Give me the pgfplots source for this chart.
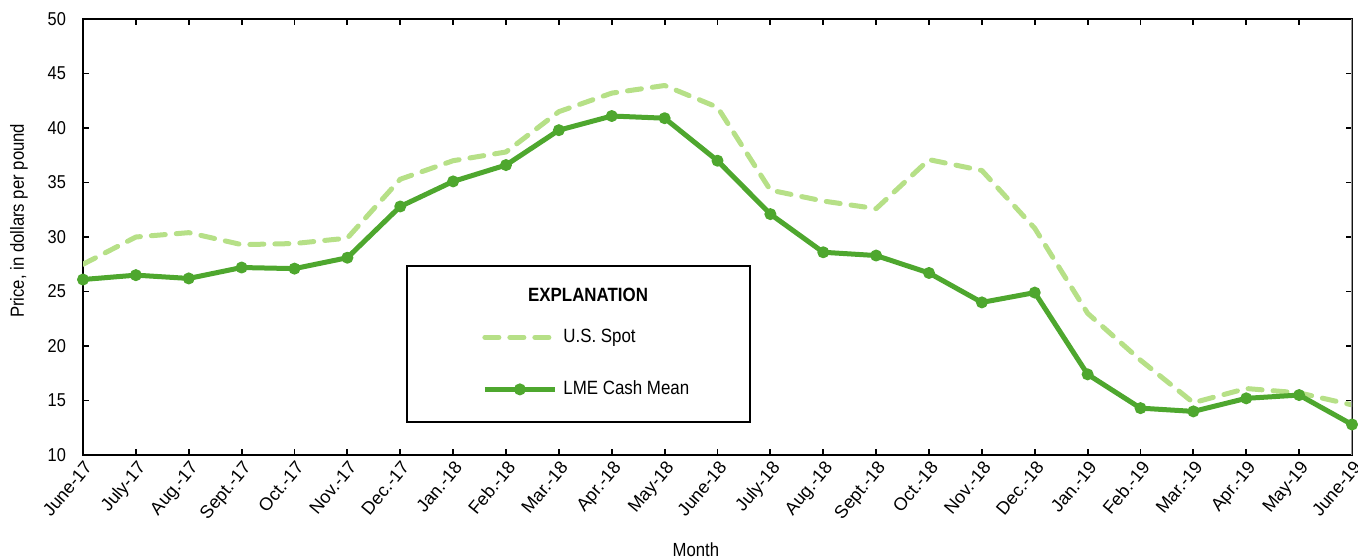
\documentclass[border=0pt]{standalone}
\usepackage{fontspec}
\setmainfont{Liberation Sans}
\newfontfamily\narrow[FakeStretch=0.88]{Liberation Sans}
\usepackage{pgfplots}
\pgfplotsset{compat=1.18}
\definecolor{lme}{RGB}{78,167,46}
\definecolor{spot}{RGB}{182,224,135}
\begin{document}
\begin{tikzpicture}
\begin{axis}[
 scale only axis, width=634.5pt, height=218pt,
 xmin=0, xmax=24, ymin=10, ymax=50,
 xtick={0,...,24},
 xticklabels={June-17,July-17,Aug.-17,Sept.-17,Oct.-17,Nov.-17,Dec.-17,Jan.-18,Feb.-18,Mar.-18,Apr.-18,May-18,June-18,July-18,Aug.-18,Sept.-18,Oct.-18,Nov.-18,Dec.-18,Jan.-19,Feb.-19,Mar.-19,Apr.-19,May-19,June-19},
 ytick={10,15,...,50},
 tick align=inside, major tick length=3pt,
 tick style={black, line width=0.9pt},
 axis line style={line width=1pt},
 x tick label style={font=\fontsize{9}{10}\selectfont, rotate=50, anchor=north east, inner sep=1.5pt},
 y tick label style={font=\narrow\fontsize{9.3}{11}\selectfont, /pgf/number format/assume math mode=true, xshift=-5pt},
 xlabel={Month}, ylabel={Price, in dollars per pound},
 xlabel style={font=\narrow\fontsize{9.5}{11}\selectfont, at={(axis description cs:0.483,-0.218)}, anchor=center},
 ylabel style={font=\narrow\fontsize{9.5}{11}\selectfont, at={(axis description cs:-0.0504,0.537)}, anchor=center},
 legend style={at={(rel axis cs:0.3144,0.3303)}, anchor=north west, draw=none, fill=none, inner sep=0pt, row sep=0pt, column sep=3pt, nodes={inner sep=0pt, minimum height=26pt, font=\narrow\fontsize{9.6}{11}\selectfont}},
 legend cell align=left,
 legend image code/.code={\draw[mark repeat=2, mark phase=2, #1] plot coordinates {(0pt,0pt) (17.5pt,0pt) (35pt,0pt)};},
]
\addplot[spot, line width=2.5pt, line cap=round, line join=round, dash pattern=on 7pt off 5.5pt] coordinates {
(0,27.5) (1,30.0) (2,30.4) (3,29.3) (4,29.4) (5,29.9) (6,35.3) (7,37.0) (8,37.8) (9,41.5) (10,43.2) (11,43.9) (12,41.9) (13,34.3) (14,33.3) (15,32.6) (16,37.1) (17,36.1) (18,30.8) (19,23.0) (20,18.7) (21,14.8) (22,16.1) (23,15.7) (24,14.6)};
\addlegendentry{U.S. Spot}
\addplot[lme, line width=2.5pt, line join=round, mark=*, mark size=2.6pt, mark options={fill=lme, draw=lme, line width=0.8pt}] coordinates {
(0,26.1) (1,26.5) (2,26.2) (3,27.2) (4,27.1) (5,28.1) (6,32.8) (7,35.1) (8,36.6) (9,39.8) (10,41.1) (11,40.9) (12,37.0) (13,32.1) (14,28.6) (15,28.3) (16,26.7) (17,24.0) (18,24.9) (19,17.4) (20,14.3) (21,14.0) (22,15.2) (23,15.5) (24,12.8)};
\addlegendentry{LME Cash Mean}
\draw[gray!80, line width=1pt] (rel axis cs:1,0) -- (rel axis cs:1,1);
\node[draw, fill=white, line width=1pt, minimum width=171.5pt, minimum height=78pt, inner sep=0pt] at (rel axis cs:0.3905,0.2546) {};
\node[font=\narrow\bfseries\fontsize{9.6}{11}\selectfont] at (rel axis cs:0.398,0.367) {EXPLANATION};
\end{axis}
\pgfresetboundingbox
\path[use as bounding box] (-41.5pt,-52pt) rectangle (637.5pt,227.5pt);
\end{tikzpicture}
\end{document}
